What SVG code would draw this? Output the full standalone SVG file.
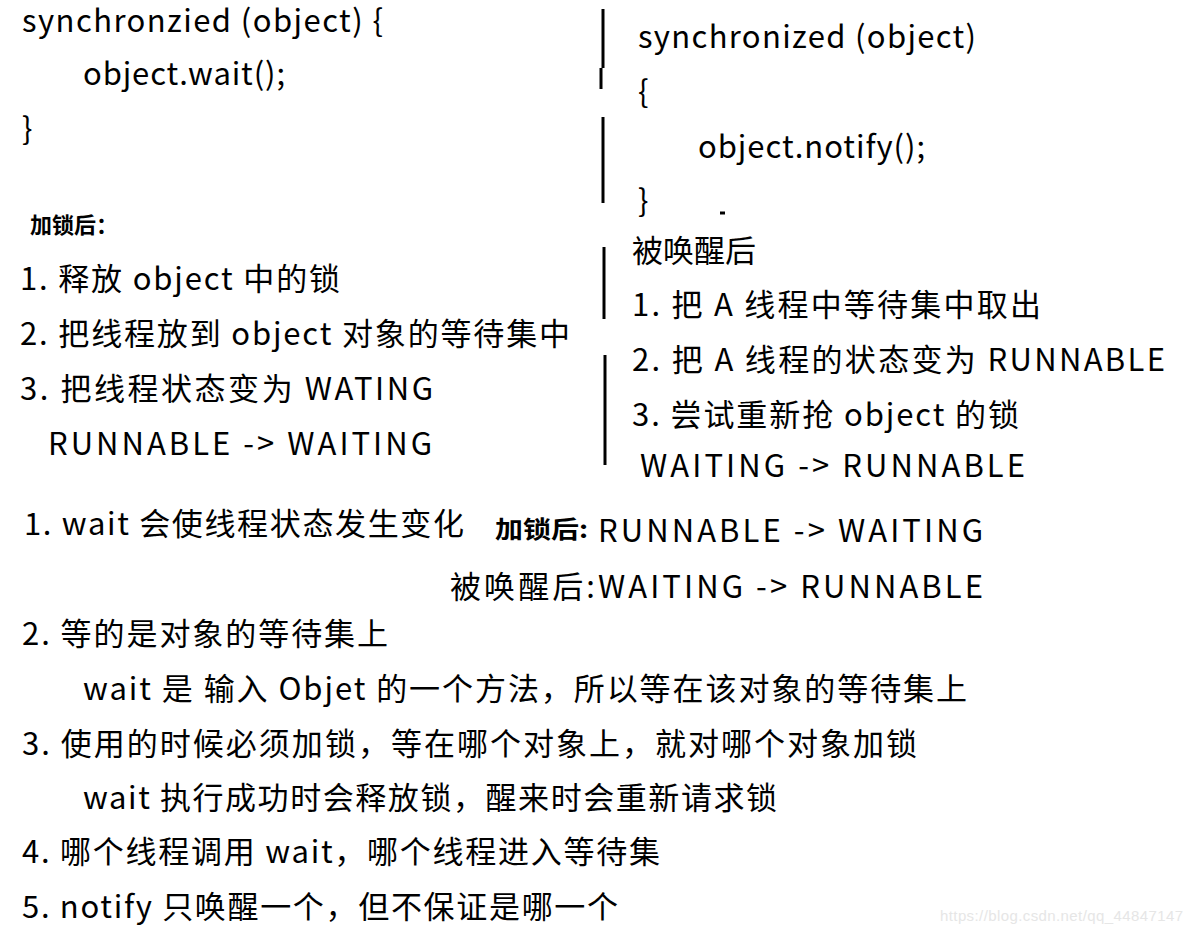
<svg xmlns="http://www.w3.org/2000/svg" width="1193" height="935" viewBox="0 0 1193 935">
<style>
text{font-family:"Noto Sans CJK SC","Noto Sans",sans-serif;font-size:31px;fill:#000}
.b{font-weight:bold;font-size:22px}
.b2{font-weight:bold;font-size:24px}
.wm{font-family:"Liberation Sans",sans-serif;font-size:15px;fill:#e6e6e6}
line{stroke:#000;stroke-width:3}
</style>
<rect width="1193" height="935" fill="#fff"/>
<g id="left-code">
<text x="22" y="32" textLength="361">synchronzied (object) {</text>
<text x="83" y="85" textLength="202">object.wait();</text>
<text x="22" y="140">}</text>
</g>
<g id="left-notes">
<text class="b" x="30" y="233">加锁后：</text>
<text x="20" y="290" textLength="320">1. 释放 object 中的锁</text>
<text x="20" y="345" textLength="550">2. 把线程放到 object 对象的等待集中</text>
<text x="20" y="400" textLength="413">3. 把线程状态变为 WATING</text>
<text x="48" y="455" textLength="384">RUNNABLE -&gt; WAITING</text>
</g>
<g id="right-code">
<text x="638" y="48" textLength="338">synchronized (object)</text>
<text x="638" y="103">{</text>
<text x="698" y="158" textLength="227">object.notify();</text>
<text x="638" y="212">}</text>
</g>
<g id="right-notes">
<text x="632" y="262">被唤醒后</text>
<text x="632" y="316" textLength="409">1. 把 A 线程中等待集中取出</text>
<text x="632" y="371" textLength="533">2. 把 A 线程的状态变为 RUNNABLE</text>
<text x="632" y="426" textLength="387">3. 尝试重新抢 object 的锁</text>
<text x="640" y="477" textLength="385">WAITING -&gt; RUNNABLE</text>
</g>
<g id="connectors">
<line x1="603" y1="9" x2="603" y2="68"/>
<line x1="601" y1="68" x2="601" y2="89"/>
<line x1="603" y1="117" x2="603" y2="203"/>
<line x1="604" y1="247" x2="604" y2="319"/>
<line x1="605" y1="355" x2="605" y2="465"/>
<line x1="720" y1="213" x2="725" y2="213" stroke="#dcdcdc" stroke-width="1.5"/>
</g>
<g id="summary">
<text x="24" y="535" textLength="440">1. wait 会使线程状态发生变化</text>
<text class="b2" x="495" y="538" textLength="93" lengthAdjust="spacingAndGlyphs">加锁后:</text>
<text x="598" y="542" textLength="385">RUNNABLE -&gt; WAITING</text>
<text x="450" y="598" textLength="533">被唤醒后:WAITING -&gt; RUNNABLE</text>
<text x="22" y="645" textLength="366">2. 等的是对象的等待集上</text>
<text x="83" y="700" textLength="884">wait 是 输入 Objet 的一个方法，所以等在该对象的等待集上</text>
<text x="22" y="755" textLength="895">3. 使用的时候必须加锁，等在哪个对象上，就对哪个对象加锁</text>
<text x="83" y="809" textLength="694">wait 执行成功时会释放锁，醒来时会重新请求锁</text>
<text x="22" y="863" textLength="638">4. 哪个线程调用 wait，哪个线程进入等待集</text>
<text x="22" y="918" textLength="596">5. notify 只唤醒一个，但不保证是哪一个</text>
</g>
<text class="wm" x="940" y="921" textLength="243">https://blog.csdn.net/qq_44847147</text>
</svg>
